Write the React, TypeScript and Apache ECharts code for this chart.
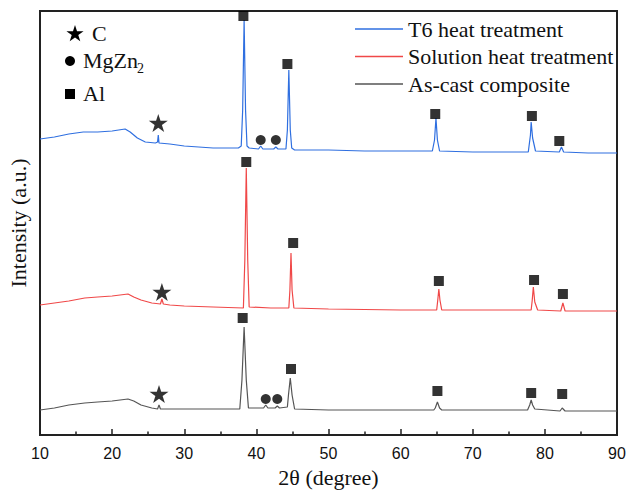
import React, { useEffect, useRef } from "react";
import * as echarts from "echarts";

// 2θ (degree) vs intensity (a.u.) — stacked XRD patterns
const seriesNames = ["T6 heat treatment", "Solution heat treatment", "As-cast composite"];
const seriesColors = ["#2f6fe0", "#f04848", "#555555"];
const seriesOffsets = [282, 124, 24];

const t6Pattern: [number, number][] = [
  [10, 14], [12, 16], [14, 19], [16, 21], [18, 21], [20, 22], [21.8, 24], [22.5, 21], [23.5, 15],
  [24.6, 11], [26.0, 10], [26.3, 11], [26.4, 18], [26.5, 10], [28, 9], [30, 7], [32, 6], [34, 5],
  [37.5, 5], [37.9, 7], [38.1, 43], [38.3, 133], [38.5, 43], [38.7, 7], [39.0, 5], [40.3, 4],
  [40.6, 7], [40.9, 4], [42.4, 4], [42.7, 6], [43.0, 4], [44.1, 4], [44.3, 23], [44.5, 83],
  [44.7, 23], [44.9, 5], [45.3, 3], [50, 3], [55, 2], [60, 2], [64.4, 2], [64.7, 13], [64.9, 35],
  [65.1, 13], [65.4, 2], [70, 1], [75, 1], [77.7, 1], [78.0, 18], [78.1, 31], [78.3, 15], [78.7, 2],
  [82.0, 1], [82.3, 6], [82.6, 1], [86, 0], [90, 0],
];

const solutionPattern: [number, number][] = [
  [10, 6], [12, 8], [14, 10], [16.2, 13], [18, 14], [20, 15], [22.2, 17], [23, 14], [24, 11],
  [25.5, 8], [26.7, 7], [26.9, 12], [27.1, 7], [28, 6], [30, 5], [34, 4], [38.2, 3], [38.4, 51],
  [38.6, 143], [38.8, 51], [39.0, 4], [42, 3], [44.5, 3], [44.65, 21], [44.8, 58], [44.95, 21],
  [45.2, 3], [50, 2], [60, 1], [65.0, 1], [65.15, 11], [65.3, 22], [65.45, 11], [65.7, 1],
  [78.1, 1], [78.25, 11], [78.4, 24], [78.6, 9], [79.0, 1], [82.2, 0], [82.5, 8], [82.8, 0], [90, 0],
];

const asCastPattern: [number, number][] = [
  [10, 1], [12, 3], [14, 6], [16.2, 8], [18, 9], [20, 10], [22.2, 12], [23, 10], [24, 6],
  [25.5, 3], [26.3, 2], [26.5, 6], [26.7, 2], [28, 2], [30, 2], [37.7, 2], [38.0, 31], [38.3, 84],
  [38.6, 31], [38.9, 3], [41.0, 3], [41.3, 6], [41.6, 3], [42.6, 3], [42.9, 5], [43.2, 3],
  [44.3, 4], [44.45, 16], [44.7, 33], [44.95, 16], [45.3, 2], [50, 1], [60, 1], [64.6, 1],
  [64.8, 3], [65.1, 9], [65.4, 3], [65.7, 1], [77.6, 1], [77.9, 6], [78.1, 11], [78.3, 6],
  [78.6, 2], [82.1, 0], [82.4, 3], [82.8, 0], [90, 0],
];

const patterns = [t6Pattern, solutionPattern, asCastPattern];

// phase marker positions (2θ, plotted height)
const alMarks: [number, number][] = [
  [38.2, 419], [44.3, 371], [64.8, 321], [78.2, 319], [82.0, 294],
  [38.6, 273], [45.1, 192], [65.3, 154], [78.5, 155], [82.5, 141],
  [38.1, 117], [44.8, 66], [65.1, 44], [78.1, 42], [82.4, 41],
];
const mgzn2Marks: [number, number][] = [[40.6, 295], [42.7, 295], [41.3, 36], [42.9, 36]];
const carbonMarks: [number, number][] = [[26.4, 312], [26.9, 143], [26.5, 41]];

const xTickMin = 10;
const xTickMax = 90;
const xTickStep = 10;

const STAR_PATH =
  "path://M50,0L61.2,34.5L97.6,34.5L68.2,55.9L79.4,90.5L50,69.1L20.6,90.5L31.8,55.9L2.4,34.5L38.8,34.5Z";

function starPoints(cx: number, cy: number, R: number): number[][] {
  const pts: number[][] = [];
  const r = R * 0.382;
  for (let i = 0; i < 10; i++) {
    const a = -Math.PI / 2 + (i * Math.PI) / 5;
    const rad = i % 2 === 0 ? R : r;
    pts.push([cx + rad * Math.cos(a), cy + rad * Math.sin(a)]);
  }
  return pts;
}

const SERIF = "'Liberation Serif', 'Times New Roman', serif";
const SANS = "'Liberation Sans', Arial, sans-serif";

export default function App() {
  const ref = useRef<HTMLDivElement>(null);
  useEffect(() => {
    document.body.style.margin = "0";
    if (!ref.current) return;
    const chart = echarts.init(ref.current, null, { renderer: "svg" });
    const lineSeries = patterns.map((p, i) => ({
      type: "line",
      name: seriesNames[i],
      data: p.map(([x, y]) => [x, y + seriesOffsets[i]]),
      symbol: "none",
      lineStyle: { color: seriesColors[i], width: 1.2 },
      itemStyle: { color: seriesColors[i] },
      z: 2,
    }));
    const option: any = {
      animation: false,
      grid: {
        left: 40, right: 10, top: 11, bottom: 55,
        show: true, borderColor: "#222", borderWidth: 2,
        outerBoundsMode: "none",
      },
      legend: {
        data: seriesNames.map((n) => ({ name: n, icon: "rect" })),
        orient: "vertical",
        left: 350,
        top: 13,
        itemWidth: 48,
        itemHeight: 1.5,
        itemGap: 5.5,
        textStyle: { fontFamily: SERIF, fontSize: 22, lineHeight: 22, color: "#111" },
      },
      xAxis: {
        type: "value",
        min: xTickMin,
        max: xTickMax,
        interval: xTickStep,
        name: "2θ (degree)",
        nameLocation: "middle",
        nameGap: 31,
        nameTextStyle: { fontFamily: SERIF, fontSize: 22, color: "#111" },
        axisLine: { show: true, onZero: false, lineStyle: { color: "#222", width: 2 } },
        axisTick: { show: true, inside: true, length: 6, lineStyle: { color: "#222", width: 1.5 } },
        minorTick: { show: true, splitNumber: 2, length: 3.5, lineStyle: { color: "#222", width: 1.5 } },
        splitLine: { show: false },
        axisLabel: { margin: 10, fontFamily: SANS, fontSize: 16, color: "#111" },
      },
      yAxis: {
        type: "value",
        min: 0,
        max: 424,
        name: "Intensity (a.u.)",
        nameLocation: "middle",
        nameGap: 11,
        nameTextStyle: { fontFamily: SERIF, fontSize: 22, color: "#111" },
        axisLine: { show: true, onZero: false, lineStyle: { color: "#222", width: 2 } },
        axisTick: { show: false },
        axisLabel: { show: false },
        splitLine: { show: false },
      },
      series: [
        ...lineSeries,
        {
          type: "scatter", name: "Al", data: alMarks, symbol: "rect", symbolSize: 10,
          itemStyle: { color: "#000" }, z: 5,
        },
        {
          type: "scatter", name: "MgZn2", data: mgzn2Marks, symbol: "circle", symbolSize: 10,
          itemStyle: { color: "#000" }, z: 5,
        },
        {
          type: "scatter", name: "C", data: carbonMarks, symbol: STAR_PATH, symbolSize: [19, 18],
          itemStyle: { color: "#000" }, z: 5,
        },
      ],
      graphic: [
        { type: "polygon", shape: { points: starPoints(75, 34, 9) }, style: { fill: "#000" } },
        { type: "text", x: 92, y: 33, style: { text: "C", font: `22px ${SERIF}`, fill: "#111", verticalAlign: "middle" } },
        { type: "circle", shape: { cx: 70, cy: 61, r: 5 }, style: { fill: "#000" } },
        { type: "text", x: 83, y: 60, style: { text: "MgZn", font: `22px ${SERIF}`, fill: "#111", verticalAlign: "middle" } },
        { type: "text", x: 137, y: 68, style: { text: "2", font: `14px ${SERIF}`, fill: "#111", verticalAlign: "middle" } },
        { type: "rect", shape: { x: 65, y: 89, width: 10, height: 10 }, style: { fill: "#000" } },
        { type: "text", x: 83, y: 93, style: { text: "Al", font: `22px ${SERIF}`, fill: "#111", verticalAlign: "middle" } },
      ],
    };
    chart.setOption(option);
    return () => chart.dispose();
  }, []);
  return <div ref={ref} style={{ width: 627, height: 490 }} />;
}
